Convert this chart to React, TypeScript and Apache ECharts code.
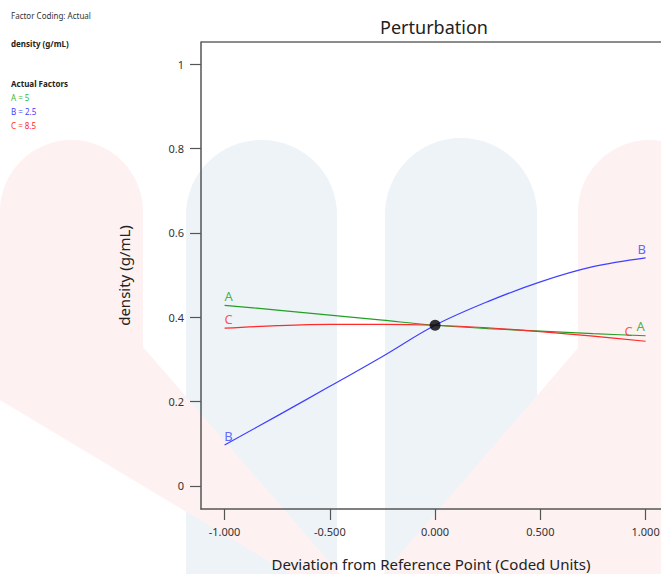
import React, { useEffect, useRef } from "react";
import * as echarts from "echarts";

// Coded deviation from the reference point
const deviation = [-1, -0.75, -0.5, -0.25, 0, 0.25, 0.5, 0.75, 1];
// density (g/mL) for each factor
const factorA = [0.428, 0.417, 0.405, 0.393, 0.381, 0.373, 0.367, 0.361, 0.356];
const factorB = [0.097, 0.166, 0.236, 0.307, 0.381, 0.437, 0.484, 0.52, 0.541];
const factorC = [0.374, 0.38, 0.383, 0.383, 0.381, 0.375, 0.366, 0.355, 0.343];
const referencePoint = [0, 0.381];

const xTicks = [-1, -0.5, 0, 0.5, 1];
const yTicks = [0, 0.2, 0.4, 0.6, 0.8, 1];

const factorNames = ["A", "B", "C"];
const actualFactors = ["A = 5", "B = 2.5", "C = 8.5"];

const GREEN = "#22a022";
const BLUE = "#4040ff";
const RED = "#ff2a2a";
const FONT = "'Noto Sans', 'Open Sans', sans-serif";

export default function App() {
  const ref = useRef<HTMLDivElement>(null);

  useEffect(() => {
    if (!ref.current) return;
    const chart = echarts.init(ref.current, null, { renderer: "svg" });

    const seriesValues = [factorA, factorB, factorC];
    const colors = [GREEN, BLUE, RED];
    const legendColors = ["#33bb33", BLUE, RED];

    const toPairs = (vals: number[]) => deviation.map((x, i) => [x, vals[i]]);

    const last = deviation.length - 1;
    const leftOffsets = [[4, -9], [4, -9], [4, -9]];
    const rightOffsets = [[-5, -10], [-4, -9], [-17, -10]];
    const letterData: any[] = [];
    seriesValues.forEach((vals, k) => {
      letterData.push({
        value: [deviation[0], vals[0]],
        label: { formatter: factorNames[k], color: colors[k], offset: leftOffsets[k] },
      });
      letterData.push({
        value: [deviation[last], vals[last]],
        label: { formatter: factorNames[k], color: colors[k], offset: rightOffsets[k] },
      });
    });

    const PINK = "#fdf1f1";
    const PALEBLUE = "#eef3f8";

    const graphic: any[] = [
      { type: "rect", z: -10, silent: true, shape: { x: 186, y: 140, width: 151, height: 434, r: [75, 75, 0, 0] }, style: { fill: PALEBLUE } },
      { type: "rect", z: -10, silent: true, shape: { x: 385, y: 138, width: 152, height: 436, r: [76, 76, 0, 0] }, style: { fill: PALEBLUE } },
      { type: "rect", z: -9, silent: true, shape: { x: 0, y: 140, width: 143, height: 260, r: [72, 72, 0, 0] }, style: { fill: PINK } },
      { type: "polygon", z: -9, silent: true, shape: { points: [[0, 300], [143, 300], [143, 347], [340, 574], [290, 574], [0, 400]] }, style: { fill: PINK } },
      { type: "rect", z: -9, silent: true, shape: { x: 578, y: 140, width: 143, height: 260, r: [72, 72, 0, 0] }, style: { fill: PINK } },
      { type: "polygon", z: -9, silent: true, shape: { points: [[578, 300], [661, 300], [661, 574], [383, 574], [578, 348]] }, style: { fill: PINK } },
      { type: "line", z: 5, silent: true, shape: { x1: 201, y1: 42, x2: 661, y2: 42 }, style: { stroke: "#666", lineWidth: 1.5 } },
      { type: "text", x: 434, y: 27, z: 5, style: { text: "Perturbation", fontSize: 18, fontFamily: FONT, fill: "#222", align: "center", verticalAlign: "middle" } },
      { type: "text", x: 11, y: 15, style: { text: "Factor Coding: Actual", fontSize: 8, fontFamily: FONT, fill: "#333", verticalAlign: "middle" } },
      { type: "text", x: 11, y: 43, style: { text: "density (g/mL)", fontSize: 8, fontWeight: "bold", fontFamily: FONT, fill: "#222", verticalAlign: "middle" } },
      { type: "text", x: 11, y: 83, style: { text: "Actual Factors", fontSize: 8, fontWeight: "bold", fontFamily: FONT, fill: "#222", verticalAlign: "middle" } },
    ];
    actualFactors.forEach((t, i) => {
      graphic.push({ type: "text", x: 11, y: 97 + i * 14, style: { text: t, fontSize: 8, fontFamily: FONT, fill: legendColors[i], verticalAlign: "middle" } });
    });

    chart.setOption({
      animation: false,
      backgroundColor: "#fff",
      textStyle: { fontFamily: FONT },
      grid: { left: 201, right: 0, top: 42, bottom: 65, containLabel: false, outerBoundsMode: "none" },
      graphic,
      xAxis: {
        type: "value",
        min: -1.112,
        max: 1.073,
        name: "Deviation from Reference Point (Coded Units)",
        nameLocation: "middle",
        nameGap: 47,
        nameTextStyle: { fontSize: 15, color: "#222", fontFamily: FONT },
        axisLine: { show: true, onZero: false, lineStyle: { color: "#555", width: 1.5 } },
        axisTick: { show: true, customValues: xTicks, length: 11, lineStyle: { color: "#555", width: 1.2 } },
        axisLabel: {
          customValues: xTicks,
          formatter: (v: number) => v.toFixed(3),
          fontSize: 11,
          color: "#333",
          margin: 17,
          fontFamily: FONT,
        },
        splitLine: { show: false },
      },
      yAxis: {
        type: "value",
        min: -0.055,
        max: 1.053,
        name: "density (g/mL)",
        nameLocation: "middle",
        nameGap: 70,
        nameRotate: 90,
        nameTextStyle: { fontSize: 15, color: "#222", fontFamily: FONT },
        axisLine: { show: true, onZero: false, lineStyle: { color: "#555", width: 1.5 } },
        axisTick: { show: true, customValues: yTicks, length: 11, lineStyle: { color: "#555", width: 1.2 } },
        axisLabel: {
          customValues: yTicks,
          formatter: (v: number) => String(Math.round(v * 10) / 10),
          fontSize: 11,
          color: "#333",
          margin: 17,
          fontFamily: FONT,
        },
        splitLine: { show: false },
      },
      series: [
        ...seriesValues.map((vals, k) => ({
          type: "line",
          name: factorNames[k],
          data: toPairs(vals),
          smooth: 0.35,
          symbol: "none",
          lineStyle: { color: colors[k], width: 1.2 },
          z: 3,
        })),
        {
          type: "scatter",
          data: letterData,
          symbolSize: 0,
          label: { show: true, position: "inside", fontSize: 13, fontFamily: FONT },
          z: 4,
        },
        {
          type: "scatter",
          data: [referencePoint],
          symbolSize: 11,
          itemStyle: { color: "#000" },
          z: 5,
        },
      ],
    });

    return () => chart.dispose();
  }, []);

  return <div ref={ref} style={{ width: 661, height: 574, position: "absolute", left: 0, top: 0 }} />;
}
